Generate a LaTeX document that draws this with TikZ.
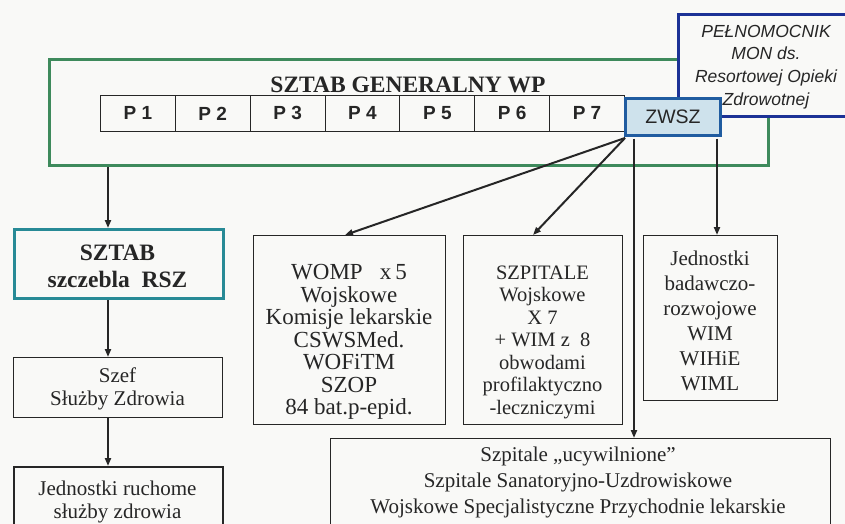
\documentclass[tikz,border=0pt]{standalone}
\usepackage{fontspec}
\setmainfont{Liberation Serif}
\newfontfamily\arialf{Liberation Sans}
\usetikzlibrary{arrows.meta,calc}
\definecolor{gengreen}{RGB}{62,138,92}
\definecolor{zwfill}{RGB}{206,226,236}
\definecolor{zwblue}{RGB}{32,92,160}
\definecolor{pelnavy}{RGB}{28,50,150}
\definecolor{rszteal}{RGB}{40,138,150}
\definecolor{ink}{RGB}{38,38,38}
\definecolor{paper}{RGB}{249,249,247}
\begin{document}
\begin{tikzpicture}[x=1pt,y=-1pt,
  every node/.style={text=ink},
  boxat/.style={draw=ink,line width=1pt,anchor=north west,inner sep=0pt,fill=paper},
  txt/.style={align=center,inner sep=0pt,font=\fontsize{21}{22.5}\selectfont},
  pcell/.style={draw=ink,line width=0.9pt,anchor=north west,inner sep=0pt,minimum width=74.86pt,minimum height=36pt,font=\arialf\bfseries\fontsize{19}{19}\selectfont},
  arr/.style={draw=ink,line width=2pt,-{Triangle[length=8pt,width=6pt]}}]
\fill[paper] (0,0) rectangle (845,524);
\useasboundingbox (0,0) rectangle (845,524);
\clip (0,0) rectangle (845,524);

% Sztab Generalny
\node[draw=gengreen,line width=3pt,anchor=north west,inner sep=0pt,minimum width=719pt,minimum height=106pt] (gen) at (48,58) {};
\node[font=\bfseries\fontsize{23.5}{24}\selectfont,inner sep=0pt] (gent) at (408,85) {SZTAB GENERALNY WP};
\node[pcell] (p1) at (100,95) {P 1};
\node[pcell] (p2) at (174.86,95) {P 2};
\node[pcell] (p3) at (249.72,95) {P 3};
\node[pcell] (p4) at (324.58,95) {P 4};
\node[pcell] (p5) at (399.44,95) {P 5};
\node[pcell] (p6) at (474.30,95) {P 6};
\node[pcell] (p7) at (549.16,95) {P 7};

% Pelnomocnik
\node[draw=pelnavy,line width=3pt,fill=paper,anchor=north west,inner sep=0pt,minimum width=200pt,minimum height=102pt] (pel) at (677,13) {};
\node[align=center,inner sep=0pt,font=\arialf\itshape\fontsize{17.5}{22.7}\selectfont] (pelt) at (766,67) {PEŁNOMOCNIK\\MON ds.\\Resortowej Opieki\\Zdrowotnej};

% boxes below
\node[boxat,draw=rszteal,line width=3pt,minimum width=209pt,minimum height=69pt] (rsz) at (13,228) {};
\node[txt,font=\bfseries\fontsize{23.5}{27}\selectfont] (rszt) at (117.5,266) {SZTAB\\szczebla\ \ RSZ};
\node[boxat,minimum width=209pt,minimum height=60pt] (szef) at (13,357) {};
\node[txt] (szeft) at (117.5,389) {Szef\\Służby Zdrowia};
\node[boxat,line width=2pt,minimum width=209pt,minimum height=80pt] (ruch) at (13,466) {};
\node[txt] (rucht) at (117.5,502) {Jednostki ruchome\\służby zdrowia};

\node[boxat,minimum width=192pt,minimum height=189pt] (womp) at (253,235) {};
\node[txt,font=\fontsize{23}{22.5}\selectfont] (wompt) at (349,342) {WOMP\ \ \ x\,5\\Wojskowe\\Komisje lekarskie\\CSWSMed.\\WOFiTM\\SZOP\\84 bat.p-epid.};
\node[boxat,minimum width=159pt,minimum height=189pt] (szp) at (463,235) {};
\node[txt,font=\fontsize{20.5}{22.5}\selectfont] (szpt) at (542.5,342) {SZPITALE\\Wojskowe\\X 7\\+ WIM z\ \ 8\\obwodami\\profilaktyczno\\-leczniczymi};
\node[boxat,minimum width=134pt,minimum height=165pt] (bad) at (643,235) {};
\node[txt,font=\fontsize{21}{25}\selectfont] (badt) at (710,321) {Jednostki\\badawczo-\\rozwojowe\\WIM\\WIHiE\\WIML};
\node[boxat,minimum width=500pt,minimum height=100pt] (bot) at (330,438) {};
\node[txt,font=\fontsize{21}{26}\selectfont] (bott) at (578,482) {Szpitale „ucywilnione”\\Szpitale Sanatoryjno-Uzdrowiskowe\\Wojskowe Specjalistyczne Przychodnie lekarskie};

% connectors, left column
\coordinate (lx) at (108,0);
\draw[arr] (lx |- gen.south) -- (lx |- rsz.north);
\draw[arr] (lx |- rsz.south) -- (lx |- szef.north);
\draw[arr] (lx |- szef.south) -- (lx |- ruch.north);

% ZWSZ and its connectors
\node[draw=zwblue,fill=zwfill,line width=3pt,anchor=north west,inner sep=0pt,minimum width=95pt,minimum height=37pt,font=\arialf\fontsize{19.5}{20}\selectfont] (zwsz) at (624,97) {ZWSZ};
\coordinate (za) at ($(zwsz.south west)+(10,1.5)$);
\coordinate (zb) at ($(zwsz.south west)+(93,1.5)$);
\coordinate (zc) at ($(zwsz.south west)+(1,1)$);
\draw[arr] (zc) -- ($(womp.north west)+(92,0)$);
\draw[arr] (zc) -- ($(szp.north west)+(70,0)$);
\draw[arr] (za) -- (za |- bot.north);
\draw[arr] (zb) -- (zb |- bad.north);
\end{tikzpicture}
\end{document}
